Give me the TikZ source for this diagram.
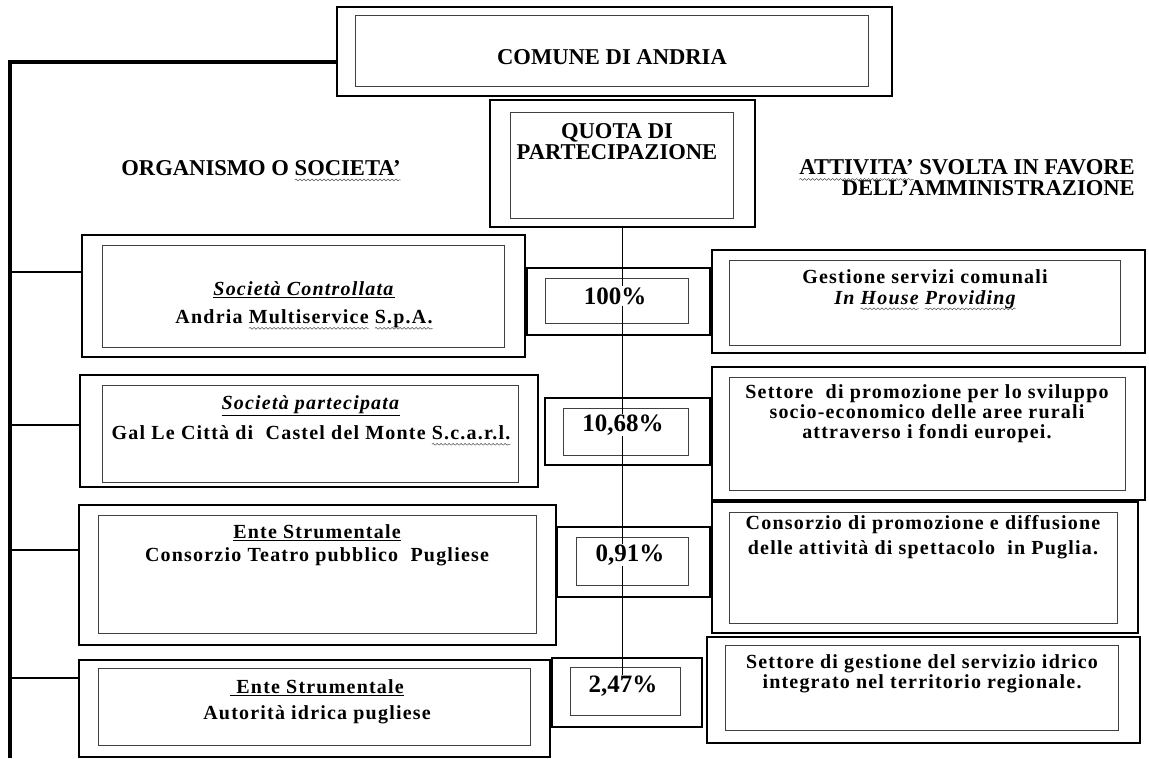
\documentclass[tikz,border=0pt]{standalone}
\usepackage{fontspec}
\setmainfont{Liberation Serif}
\newfontfamily\bodyf{Liberation Serif}[LetterSpace=6]
\usetikzlibrary{fit,decorations.pathmorphing}
\newsavebox\wvbox
\newcommand\wv[1]{\sbox\wvbox{#1}\rlap{\tikz[overlay,baseline=0pt]\draw[line width=0.5pt, black!70, decorate, decoration={snake, amplitude=0.9pt, segment length=4pt}] (0pt,-4.5pt) -- (\the\wd\wvbox,-4.5pt);}\usebox\wvbox}
\newcommand\myul[1]{\underline{#1}}
\begin{document}
\begin{tikzpicture}[x=1pt,y=-1pt,
  outerbox/.style={draw=black, line width=1.8pt, inner sep=0pt, fit={#1}},
  innerbox/.style={draw=black!75, line width=0.9pt, inner sep=0pt, fit={#1}},
  hdr/.style={font=\fontsize{22.6}{#1}\selectfont\bfseries, align=center, inner sep=0pt},
  body/.style={font=\bodyf\fontsize{20}{#1}\selectfont\bfseries, align=center, inner sep=0pt},
  pct/.style={font=\fontsize{25}{25}\selectfont\bfseries, inner sep=1pt},
  trunk/.style={line width=3.5pt},
  branch/.style={line width=1.4pt},
  chain/.style={line width=1pt}]
\useasboundingbox (0,0) rectangle (1149,758);

% top box
\node[outerbox={(337,7) (892,96)}] (Co) {};
\node[innerbox={(355,15) (868,86)}] (Ci) {};
\node[hdr=22] (Ct) at (612,57) {COMUNE DI ANDRIA};

% quota box
\node[outerbox={(490,100) (755,227)}] (Qo) {};
\node[innerbox={(510,112) (733,218)}] (Qi) {};
\node[hdr=21] (Qt) at (617,142) {QUOTA DI\\PARTECIPAZIONE};

% column headers
\node[hdr=22] (H1) at (261,168) {ORGANISMO O \wv{SOCIETA'}};
\node[hdr=21, align=right, anchor=east] (H2) at (1135,178) {\wv{ATTIVITA'} SVOLTA IN FAVORE\\DELL'AMMINISTRAZIONE};

% row 1
\node[outerbox={(82,235) (525,357)}] (L1o) {};
\node[innerbox={(102,245) (504,347)}] (L1i) {};
\node[body=28] (L1t) at (304,305) {\myul{\textit{Società Controllata}}\\Andria \wv{Multiservice} \wv{S.p.A.}};
\node[outerbox={(527,268) (710,335)}] (M1o) {};
\node[innerbox={(545,278) (688,323)}] (M1i) {};
\node[pct] (p100) at (615,296) {100\%};
\node[outerbox={(712,250) (1145,353)}] (R1o) {};
\node[innerbox={(729,260) (1120,345)}] (R1i) {};
\node[body=21] (R1t) at (925,289) {Gestione servizi comunali\\\textit{In \wv{House} \wv{Providing}}};

% row 2
\node[outerbox={(80,375) (538,487)}] (L2o) {};
\node[innerbox={(102,385) (518,482)}] (L2i) {};
\node[body=30] (L2t) at (311,418) {\myul{\textit{Società partecipata}}\\Gal Le Città di\ \ Castel del Monte \wv{S.c.a.r.l.}};
\node[outerbox={(545,398) (710,465)}] (M2o) {};
\node[innerbox={(563,408) (688,455)}] (M2i) {};
\node[pct] (p1068) at (623,425) {10,68\%};
\node[outerbox={(712,367) (1145,500)}] (R2o) {};
\node[innerbox={(729,377) (1125,490)}] (R2i) {};
\node[body=20] (R2t) at (927,414) {Settore\ \ di promozione per lo sviluppo\\socio-economico delle aree rurali\\attraverso i fondi europei.};

% row 3
\node[outerbox={(79,505) (556,645)}] (L3o) {};
\node[innerbox={(98,515) (536,633)}] (L3i) {};
\node[body=23] (L3t) at (317,545) {\myul{Ente Strumentale}\\Consorzio Teatro pubblico\ \ Pugliese};
\node[outerbox={(557,527) (710,597)}] (M3o) {};
\node[innerbox={(576,537) (688,585)}] (M3i) {};
\node[pct] (p091) at (630,555) {0,91\%};
\node[outerbox={(712,502) (1138,633)}] (R3o) {};
\node[innerbox={(729,512) (1117,623)}] (R3i) {};
\node[body=25] (R3t) at (923,537) {Consorzio di promozione e diffusione\\delle attività di spettacolo\ \ in Puglia.};

% row 4
\node[outerbox={(79,660) (550,757)}] (L4o) {};
\node[innerbox={(98,668) (530,745)}] (L4i) {};
\node[body=26] (L4t) at (317,702) {\myul{\ Ente Strumentale}\\Autorità idrica pugliese};
\node[outerbox={(552,658) (702,727)}] (M4o) {};
\node[innerbox={(570,667) (680,715)}] (M4i) {};
\node[pct] (p247) at (623,686) {2,47\%};
\node[outerbox={(707,637) (1140,743)}] (R4o) {};
\node[innerbox={(725,645) (1118,730)}] (R4i) {};
\node[body=20] (R4t) at (922,674) {Settore di gestione del servizio idrico\\integrato nel territorio regionale.};

% trunk and branches
\coordinate (tTop) at (10,62);
\coordinate (tBot) at (10,758);
\coordinate (b1) at (10,272);
\coordinate (b2) at (10,425);
\coordinate (b3) at (10,550);
\coordinate (b4) at (10,678);
\draw[trunk] (tTop -| Co.west) -- (tTop) -- (tBot);
\draw[branch] (b1) -- (b1 -| L1o.west);
\draw[branch] (b2) -- (b2 -| L2o.west);
\draw[branch] (b3) -- (b3 -| L3o.west);
\draw[branch] (b4) -- (b4 -| L4o.west);

% percentage chain
\draw[chain] (Qo.south) -- (Qo.south |- p100.north);
\draw[chain] (p100.south -| Qo.south) -- (Qo.south |- p1068.north);
\draw[chain] (p1068.south -| Qo.south) -- (Qo.south |- p091.north);
\draw[chain] (p091.south -| Qo.south) -- (Qo.south |- p247.north);
\end{tikzpicture}
\end{document}
